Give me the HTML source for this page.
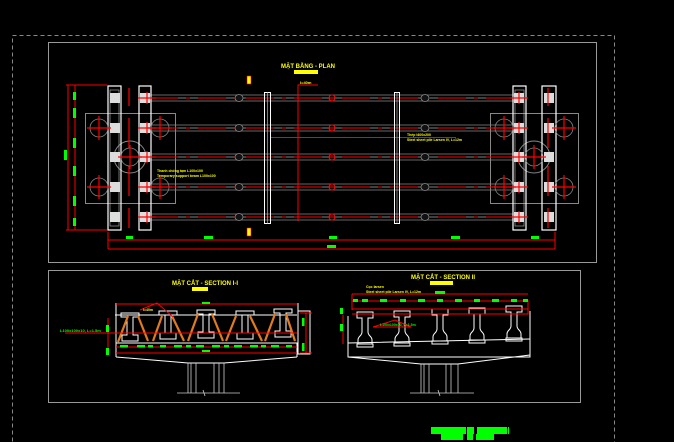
<!DOCTYPE html>
<html><head><meta charset="utf-8"><style>
html,body{margin:0;padding:0;background:#000;width:674px;height:442px;overflow:hidden}
svg{display:block}
text{font-family:"Liberation Sans",sans-serif;font-weight:bold}
</style></head><body>
<svg width="674" height="442" viewBox="0 0 674 442" xmlns="http://www.w3.org/2000/svg">
<defs>
<g id="row">
  <line x1="150" y1="-3" x2="515" y2="-3" stroke="#888" stroke-width="0.8"/>
  <line x1="150" y1="0" x2="515" y2="0" stroke="#aaa" stroke-width="0.8"/>
  <line x1="150" y1="3" x2="515" y2="3" stroke="#888" stroke-width="0.8"/>
  <line x1="150" y1="0" x2="515" y2="0" stroke="#f00" stroke-width="1" stroke-dasharray="28 8 4 8"/>
  <ellipse cx="239" cy="0" rx="4" ry="3.5" fill="#111" stroke="#888" stroke-width="0.8"/>
  <ellipse cx="425" cy="0" rx="4" ry="3.5" fill="#111" stroke="#888" stroke-width="0.8"/>
  <circle cx="332" cy="0" r="3" fill="none" stroke="#f00"/>
</g>
<g id="cross">
  <circle r="9" fill="none" stroke="#888" stroke-width="0.8"/>
  <line x1="-12" y1="0" x2="12" y2="0" stroke="#f00" stroke-width="1.2"/>
  <line x1="0" y1="-12" x2="0" y2="12" stroke="#f00" stroke-width="1.2"/>
</g>
<g id="ibeam" fill="none" stroke="#fff" stroke-width="1">
  <path d="M-9,0 H9 V4 H3 V22 H8 V28 H-8 V22 H-3 V4 H-9 Z"/>
</g>
<g id="pgirder" fill="none" stroke="#fff" stroke-width="1">
  <path d="M-8,0 H8 V6 H3 V20 C3,24 7,24 7,28 V32 H-7 V28 C-7,24 -3,24 -3,20 V6 H-8 Z"/>
  <rect x="-8" y="32" width="16" height="3"/>
</g>
</defs>

<rect x="12.5" y="35.5" width="602" height="420" fill="none" stroke="#888" stroke-dasharray="4 3"/>

<rect x="48.5" y="42.5" width="548" height="220" fill="none" stroke="#999"/>
<text x="308" y="68" fill="#ff0" font-size="6" text-anchor="middle">MẶT BẰNG - PLAN</text>
<rect x="294" y="70" width="24" height="4" fill="#ff0"/>
<text x="300" y="84" fill="#ff0" font-size="4">I=40m</text>
<rect x="247" y="76" width="4" height="8" fill="#ff0" stroke="#f00" stroke-width="0.6"/>
<rect x="247" y="228" width="4" height="8" fill="#ff0" stroke="#f00" stroke-width="0.6"/>

<rect x="85.5" y="113.5" width="90" height="90" fill="none" stroke="#888"/>
<rect x="490.5" y="113.5" width="88" height="90" fill="none" stroke="#888"/>
<circle cx="130" cy="157" r="16" fill="none" stroke="#888"/>
<circle cx="534" cy="157" r="16" fill="none" stroke="#888"/>

<use href="#row" y="98"/><use href="#row" y="128"/><use href="#row" y="157"/><use href="#row" y="187"/><use href="#row" y="217"/>
<line x1="271" y1="137.5" x2="456" y2="137.5" stroke="#f00"/>

<g fill="none" stroke="#fff" stroke-width="1.2">
<rect x="108" y="86" width="13" height="144"/><rect x="139" y="86" width="12" height="144"/>
<rect x="513" y="86" width="13" height="144"/><rect x="542" y="86" width="14" height="144"/>
<rect x="110" y="90" width="9" height="136" stroke="#bbb" stroke-width="0.6"/>
<rect x="515" y="90" width="9" height="136" stroke="#bbb" stroke-width="0.6"/>
</g>
<g fill="#ddd">
<rect x="110" y="93" width="10" height="10"/><rect x="110" y="123" width="10" height="10"/><rect x="110" y="152" width="10" height="10"/><rect x="110" y="182" width="10" height="10"/><rect x="110" y="212" width="10" height="10"/>
<rect x="140" y="93" width="10" height="10"/><rect x="140" y="123" width="10" height="10"/><rect x="140" y="152" width="10" height="10"/><rect x="140" y="182" width="10" height="10"/><rect x="140" y="212" width="10" height="10"/>
<rect x="514" y="93" width="10" height="10"/><rect x="514" y="123" width="10" height="10"/><rect x="514" y="152" width="10" height="10"/><rect x="514" y="182" width="10" height="10"/><rect x="514" y="212" width="10" height="10"/>
<rect x="544" y="93" width="10" height="10"/><rect x="544" y="123" width="10" height="10"/><rect x="544" y="152" width="10" height="10"/><rect x="544" y="182" width="10" height="10"/><rect x="544" y="212" width="10" height="10"/>
</g>
<g fill="none" stroke="#f00" stroke-width="1.2">
<path d="M138,98h18M147,92v12M138,128h18M147,122v12M138,157h18M147,151v12M138,187h18M147,181v12M138,217h18M147,211v12"/>
<path d="M510,98h18M519,92v12M510,128h18M519,122v12M510,157h18M519,151v12M510,187h18M519,181v12M510,217h18M519,211v12"/>
<path d="M129,88v18M129,118v30M129,166v30M129,208v20M548,88v18M548,118v30M548,166v30M548,208v20"/>
</g>
<use href="#cross" x="99" y="128"/><use href="#cross" x="99" y="187"/><use href="#cross" x="160" y="128"/><use href="#cross" x="160" y="187"/>
<use href="#cross" x="130" y="157"/><use href="#cross" x="534" y="157"/>
<use href="#cross" x="504" y="128"/><use href="#cross" x="504" y="187"/><use href="#cross" x="564" y="128"/><use href="#cross" x="564" y="187"/>

<rect x="264.5" y="92.5" width="6" height="131" fill="none" stroke="#fff"/>
<line x1="267.5" y1="92" x2="267.5" y2="224" stroke="#ccc" stroke-width="0.6"/>
<rect x="394.5" y="92.5" width="5" height="131" fill="none" stroke="#fff"/>
<line x1="397" y1="92" x2="397" y2="224" stroke="#ccc" stroke-width="0.6"/>
<path d="M298,221V85H318" fill="none" stroke="#f00"/>

<text x="157" y="172" fill="#ff0" font-size="3.5">Thanh chống tạm L100x100</text>
<text x="157" y="177" fill="#ff0" font-size="3.5">Temporary support beam L100x100</text>
<text x="407" y="136" fill="#ff0" font-size="3.5">Thép I400x200</text>
<text x="407" y="141" fill="#ff0" font-size="3.5">Steel sheet pile Larsen IV, L=12m</text>

<g stroke="#f00" fill="none">
<path d="M75,85V230M68,85V230M66,85H107M66,230H107"/>
<path d="M108,240H555M108,249H555M108,232V249M555,232V249"/>
</g>
<g fill="#0f0">
<rect x="73" y="92" width="3" height="8"/><rect x="73" y="108" width="3" height="10"/><rect x="73" y="138" width="3" height="10"/><rect x="73" y="166" width="3" height="10"/><rect x="73" y="196" width="3" height="10"/><rect x="73" y="218" width="3" height="8"/>
<rect x="64" y="150" width="3" height="10"/>
<rect x="126" y="236" width="7" height="3"/><rect x="204" y="236" width="9" height="3"/><rect x="329" y="236" width="8" height="3"/><rect x="451" y="236" width="9" height="3"/><rect x="531" y="236" width="8" height="3"/>
<rect x="327" y="245" width="9" height="3"/>
</g>

<rect x="48.5" y="270.5" width="532" height="132" fill="none" stroke="#999"/>

<text x="205" y="285" fill="#ff0" font-size="6" text-anchor="middle">MẶT CẮT - SECTION I-I</text>
<rect x="192" y="287" width="16" height="4" fill="#ff0"/>
<g fill="none" stroke="#fff">
<path d="M116,303V343H298V303"/>
<path d="M115,315H297M116,343H297"/>
<path d="M116,357L188,363H224L297,357"/>
<rect x="298" y="311" width="12" height="43"/>
<path d="M116,357V343M297,357V343"/>
</g>
<use href="#ibeam" x="130" y="313"/><use href="#ibeam" x="168" y="311"/><use href="#ibeam" x="206" y="310"/><use href="#ibeam" x="245" y="311"/><use href="#ibeam" x="283" y="309"/>
<g stroke="#e07b1e" stroke-width="2.2">
<path d="M118,342L128,316M138,316L148,341M153,341L162,316M172,316L184,341M188,341L198,314M212,314L223,341M226,341L236,316M250,316L262,341M265,341L275,314M286,314L295,341"/>
</g>
<g stroke="#f00" fill="none">
<path d="M116,304H297M116,333H297M116,353H297M116,347H297M65,333H116"/>
<path d="M108,318V352M306,313V353M300,313H312M300,353H312"/>
<path d="M140,310L157,303L173,317"/>
</g>
<text x="143" y="311" fill="#ff0" font-size="3.5">I=40m</text>
<text x="60" y="332" fill="#0f0" font-size="4">L100x100x10, L=1.5m</text>
<g fill="#0f0">
<rect x="106" y="325" width="3" height="7"/><rect x="106" y="348" width="3" height="7"/>
<rect x="202" y="302" width="8" height="2"/><rect x="202" y="350" width="8" height="2"/>
<rect x="120" y="345" width="8" height="2.5"/><rect x="137" y="345" width="8" height="2.5"/><rect x="148" y="345" width="5" height="2.5"/><rect x="160" y="345" width="6" height="2.5"/><rect x="174" y="345" width="8" height="2.5"/><rect x="186" y="345" width="5" height="2.5"/><rect x="196" y="345" width="8" height="2.5"/><rect x="212" y="345" width="8" height="2.5"/><rect x="224" y="345" width="5" height="2.5"/><rect x="234" y="345" width="8" height="2.5"/><rect x="250" y="345" width="8" height="2.5"/><rect x="261" y="345" width="5" height="2.5"/><rect x="271" y="345" width="8" height="2.5"/><rect x="286" y="345" width="6" height="2.5"/>
<rect x="302" y="318" width="2.5" height="8"/><rect x="302" y="343" width="2.5" height="8"/>
</g>
<g stroke="#ccc" fill="none" stroke-width="0.8">
<path d="M188,363V393M191,363V393M196,363V393M214,363V393M219,363V393M224,363V393M177,393H240M203,390L205,396"/>
</g>

<text x="443" y="279" fill="#ff0" font-size="6" text-anchor="middle">MẶT CẮT - SECTION II</text>
<rect x="430" y="281" width="23" height="4" fill="#ff0"/>
<text x="366" y="288" fill="#ff0" font-size="3.5">Cọc larsen</text>
<text x="366" y="293" fill="#ff0" font-size="3.5">Steel sheet pile Larsen IV, L=12m</text>
<g fill="none" stroke="#fff">
<path d="M348,316V357H530V311"/>
<path d="M348,343L530,339M348,357L421,364H458L530,355"/>
</g>
<use href="#pgirder" x="365" y="312"/><use href="#pgirder" x="402" y="311"/><use href="#pgirder" x="440" y="309"/><use href="#pgirder" x="477" y="308"/><use href="#pgirder" x="514" y="306"/>
<g stroke="#f00" fill="none">
<path d="M352,294H528M352,301H528M352,309H528M352,314H528V300M352,294V310"/>
<path d="M343,315V344M373,327H411L395,320L373,327"/>
</g>
<g fill="#0f0">
<rect x="353" y="299" width="5" height="3"/><rect x="362" y="299" width="6" height="3"/><rect x="380" y="299" width="7" height="3"/><rect x="400" y="299" width="6" height="3"/><rect x="418" y="299" width="7" height="3"/><rect x="437" y="299" width="6" height="3"/><rect x="455" y="299" width="7" height="3"/><rect x="474" y="299" width="6" height="3"/><rect x="492" y="299" width="7" height="3"/><rect x="511" y="299" width="6" height="3"/><rect x="523" y="299" width="5" height="3"/>
<rect x="435" y="291" width="10" height="3"/>
<rect x="340" y="308" width="3" height="6"/><rect x="340" y="324" width="3" height="7"/>
</g>
<text x="380" y="326" fill="#0f0" font-size="3.5">L100x100x10, L=1.5m</text>
<g stroke="#ccc" fill="none" stroke-width="0.8">
<path d="M421,364V393M424,364V393M429,364V393M446,364V393M451,364V393M458,364V393M410,393H474M438,390L440,396"/>
</g>

<rect x="431" y="427" width="35" height="7" fill="#0f0"/>
<rect x="467" y="427" width="7" height="7" fill="#0f0"/>
<rect x="477" y="427" width="30" height="7" fill="#0f0"/>
<rect x="508" y="427" width="1" height="7" fill="#0f0"/>
<rect x="441" y="434" width="22" height="6" fill="#0f0"/>
<rect x="467" y="434" width="6" height="6" fill="#0f0"/>
<rect x="476" y="434" width="18" height="6" fill="#0f0"/>
</svg>
</body></html>
